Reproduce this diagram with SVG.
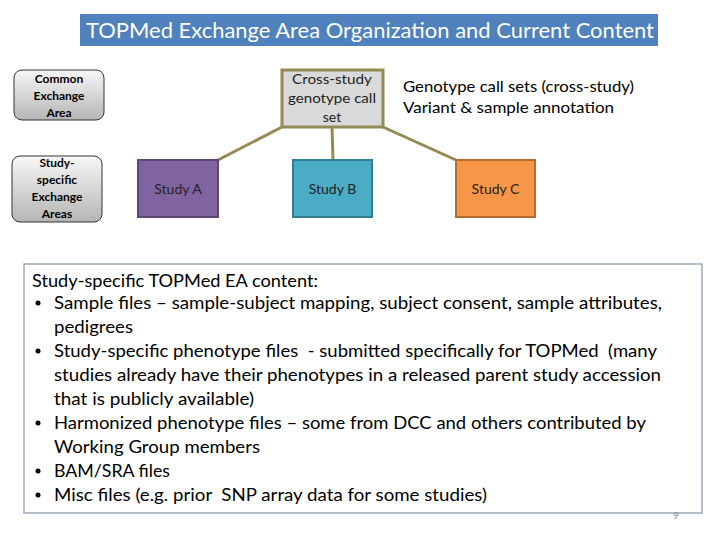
<svg xmlns="http://www.w3.org/2000/svg" width="720" height="540" viewBox="0 0 720 540">
<defs>
<linearGradient id="grey" x1="0" y1="0" x2="0" y2="1">
<stop offset="0" stop-color="#f7f7f7"/>
<stop offset="1" stop-color="#b5b5b5"/>
</linearGradient>
</defs>
<style>
text{font-family:Lato,"Open Sans","Liberation Sans",sans-serif;}
.leg{font-size:12px;font-weight:bold;fill:#000;text-anchor:middle;}
.st{font-size:14px;fill:#222;text-anchor:middle;}
.body{font-size:17.5px;fill:#000;}
.conn{stroke:#948a54;stroke-width:3;fill:none;}
</style>
<rect width="720" height="540" fill="#ffffff"/>
<g id="title">
<rect x="80" y="14" width="578" height="32" fill="#4f81bd"/>
<text x="86" y="38" font-size="21" fill="#ffffff" textLength="568" lengthAdjust="spacingAndGlyphs">TOPMed Exchange Area Organization and Current Content</text>
</g>
<g id="connectors">
<line class="conn" x1="282" y1="127" x2="218" y2="160"/>
<line class="conn" x1="332" y1="127" x2="333" y2="160"/>
<line class="conn" x1="383" y1="127" x2="456" y2="160"/>
</g>
<g id="common-exchange-area">
<rect x="14" y="70" width="90" height="50" rx="8" fill="url(#grey)" stroke="#333" stroke-width="1"/>
<text class="leg" x="59" y="83">Common</text>
<text class="leg" x="59" y="100">Exchange</text>
<text class="leg" x="59" y="117">Area</text>
</g>
<g id="study-specific-exchange-areas">
<rect x="12" y="156" width="90" height="66" rx="8" fill="url(#grey)" stroke="#333" stroke-width="1"/>
<text class="leg" x="57" y="167">Study-</text>
<text class="leg" x="57" y="184">specific</text>
<text class="leg" x="57" y="201">Exchange</text>
<text class="leg" x="57" y="218">Areas</text>
</g>
<g id="cross-study">
<rect x="282" y="70" width="101" height="57" fill="#d9d9d9" stroke="#948a54" stroke-width="3"/>
<text class="st" x="332" y="84" font-size="13" textLength="80" lengthAdjust="spacingAndGlyphs">Cross-study</text>
<text class="st" x="332" y="103" font-size="13" textLength="88" lengthAdjust="spacingAndGlyphs">genotype call</text>
<text class="st" x="332" y="122" font-size="13">set</text>
</g>
<g id="cross-study-note">
<text x="403" y="92" font-size="15" fill="#000" textLength="231" lengthAdjust="spacingAndGlyphs">Genotype call sets (cross-study)</text>
<text x="403" y="113" font-size="15" fill="#000" textLength="211" lengthAdjust="spacingAndGlyphs">Variant &amp; sample annotation</text>
</g>
<g id="study-a">
<rect x="138" y="160" width="80" height="57" fill="#8064a2" stroke="#5c4776" stroke-width="2"/>
<text class="st" x="178" y="194">Study A</text>
</g>
<g id="study-b">
<rect x="293" y="160" width="79" height="57" fill="#4bacc6" stroke="#357d91" stroke-width="2"/>
<text class="st" x="332.5" y="194">Study B</text>
</g>
<g id="study-c">
<rect x="456" y="160" width="79" height="57" fill="#f79646" stroke="#b66d31" stroke-width="2"/>
<text class="st" x="495.5" y="194">Study C</text>
</g>
<g id="content-box">
<rect x="24" y="264" width="678" height="249" fill="#ffffff" stroke="#7f95a8" stroke-width="1.2"/>
<text class="body" x="32" y="287" textLength="286" lengthAdjust="spacingAndGlyphs">Study-specific TOPMed EA content:</text>
<g fill="#000">
<circle cx="38" cy="303" r="2.5"/>
<circle cx="38" cy="351" r="2.5"/>
<circle cx="38" cy="423" r="2.5"/>
<circle cx="38" cy="471" r="2.5"/>
<circle cx="38" cy="495" r="2.5"/>
</g>
<text class="body" x="54" y="309" textLength="608" lengthAdjust="spacingAndGlyphs">Sample files – sample-subject mapping, subject consent, sample attributes,</text>
<text class="body" x="54" y="333" textLength="79" lengthAdjust="spacingAndGlyphs">pedigrees</text>
<text class="body" x="54" y="357" textLength="603" lengthAdjust="spacingAndGlyphs" xml:space="preserve">Study-specific phenotype files  - submitted specifically for TOPMed  (many</text>
<text class="body" x="54" y="381" textLength="607" lengthAdjust="spacingAndGlyphs">studies already have their phenotypes in a released parent study accession</text>
<text class="body" x="54" y="405" textLength="200" lengthAdjust="spacingAndGlyphs">that is publicly available)</text>
<text class="body" x="54" y="429" textLength="592" lengthAdjust="spacingAndGlyphs">Harmonized phenotype files – some from DCC and others contributed by</text>
<text class="body" x="54" y="453" textLength="206" lengthAdjust="spacingAndGlyphs">Working Group members</text>
<text class="body" x="54" y="477" textLength="116" lengthAdjust="spacingAndGlyphs">BAM/SRA files</text>
<text class="body" x="54" y="501" textLength="433" lengthAdjust="spacingAndGlyphs" xml:space="preserve">Misc files (e.g. prior  SNP array data for some studies)</text>
</g>
<g id="page-number">
<text x="673" y="519" font-size="10" fill="#8a8a8a">9</text>
</g>
</svg>
